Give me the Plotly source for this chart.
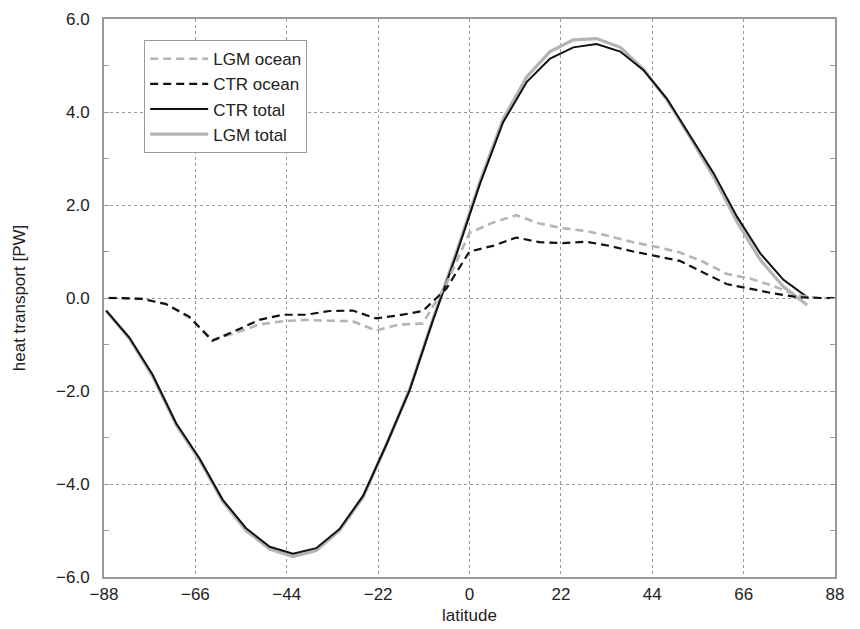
import plotly.graph_objects as go

# Latitudes of the total heat transport points
lat_total = [-87.5, -81.9, -76.3, -70.6, -65.0, -59.4, -53.8, -48.1, -42.5, -36.9,
             -31.3, -25.6, -20.0, -14.4, -8.8, -3.1, 2.5, 8.1, 13.8, 19.4,
             25.0, 30.6, 36.3, 41.9, 47.5, 53.1, 58.8, 64.4, 70.0, 75.6, 81.3]
ctr_total = [-0.27, -0.85, -1.65, -2.70, -3.45, -4.34, -4.95, -5.35, -5.50, -5.38,
             -4.97, -4.25, -3.15, -1.98, -0.48, 0.95, 2.45, 3.78, 4.65, 5.15,
             5.39, 5.46, 5.30, 4.90, 4.29, 3.50, 2.68, 1.75, 0.96, 0.39, 0.02]
lgm_total = [-0.27, -0.87, -1.68, -2.73, -3.48, -4.38, -5.00, -5.40, -5.56, -5.43,
             -5.00, -4.28, -3.15, -1.96, -0.45, 1.00, 2.50, 3.85, 4.76, 5.30,
             5.55, 5.58, 5.39, 4.92, 4.27, 3.46, 2.60, 1.64, 0.82, 0.24, -0.15]

# Latitudes of the ocean heat transport points
lat_ocean = [-90.0, -84.4, -78.75, -73.1, -67.5, -61.9, -56.25, -50.6, -45.0, -39.4,
             -33.75, -28.1, -22.5, -16.9, -11.25, -5.6, 0.0, 5.6, 11.25, 16.9,
             22.5, 28.1, 33.75, 39.4, 45.0, 50.6, 56.25, 61.9, 67.5, 73.1,
             78.75, 84.4, 90.0]
ctr_ocean = [0.0, 0.0, -0.02, -0.13, -0.40, -0.92, -0.70, -0.47, -0.36, -0.36,
             -0.28, -0.27, -0.44, -0.37, -0.28, 0.20, 1.00, 1.12, 1.30, 1.20,
             1.18, 1.21, 1.12, 1.00, 0.90, 0.80, 0.55, 0.30, 0.20, 0.10,
             0.02, 0.0, 0.0]
lgm_ocean = [0.0, 0.0, -0.02, -0.13, -0.42, -0.90, -0.75, -0.57, -0.50, -0.47,
             -0.49, -0.50, -0.70, -0.57, -0.55, 0.30, 1.40, 1.62, 1.78, 1.60,
             1.50, 1.44, 1.33, 1.20, 1.10, 0.98, 0.78, 0.52, 0.42, 0.26,
             0.06, 0.0, 0.0]

x_ticks = [-88, -66, -44, -22, 0, 22, 44, 66, 88]
y_ticks = [-6, -4, -2, 0, 2, 4, 6]

GREY = "#b4b4b4"
BLACK = "#111111"
FRAME = "#9a9a9a"
FONT = "Liberation Sans, Arial, sans-serif"

fig = go.Figure()
fig.add_trace(go.Scatter(x=lat_total, y=lgm_total, mode="lines", name="LGM total",
                         line=dict(color=GREY, width=3.2), legendrank=4))
fig.add_trace(go.Scatter(x=lat_total, y=ctr_total, mode="lines", name="CTR total",
                         line=dict(color=BLACK, width=2), legendrank=3))
fig.add_trace(go.Scatter(x=lat_ocean, y=lgm_ocean, mode="lines", name="LGM ocean",
                         line=dict(color=GREY, width=2.6, dash="8px,5px"), legendrank=1))
fig.add_trace(go.Scatter(x=lat_ocean, y=ctr_ocean, mode="lines", name="CTR ocean",
                         line=dict(color=BLACK, width=2.2, dash="8px,5px"), legendrank=2))

tick_font = dict(family=FONT, size=17, color="#222")
title_font = dict(family=FONT, size=17, color="#222")

fig.update_layout(
    width=860, height=629,
    margin=dict(l=104, r=25, t=19, b=52),
    paper_bgcolor="white", plot_bgcolor="white",
    font=tick_font,
    showlegend=True,
    legend=dict(x=0.055, y=0.962, xanchor="left", yanchor="top",
                bordercolor=FRAME, borderwidth=1, bgcolor="white",
                font=dict(family=FONT, size=17, color="#222"),
                itemwidth=58, tracegroupgap=0),
)
fig.update_xaxes(
    range=[-88, 88], tickvals=x_ticks, ticktext=[str(v).replace("-", "\u2212") for v in x_ticks],
    tickfont=tick_font, automargin=False,
    showgrid=True, gridcolor="#999", griddash="dot", gridwidth=1,
    zeroline=False, showline=True, linecolor=FRAME, linewidth=2, mirror=True,
    ticks="", ticklabelstandoff=1,
    title=dict(text="latitude", font=title_font, standoff=6),
)
fig.update_yaxes(
    range=[-6, 6], tickvals=y_ticks, tickformat=".1f", tickfont=tick_font, automargin=False,
    showgrid=True, gridcolor="#999", griddash="dot", gridwidth=1,
    zeroline=False, showline=True, linecolor=FRAME, linewidth=2, mirror="ticks",
    ticks="inside", ticklen=5, tickcolor=FRAME, ticklabelstandoff=9,
    minor=dict(dtick=1, tick0=0, ticks="inside", ticklen=5, tickcolor=FRAME, showgrid=False),
    title=dict(text="heat transport [PW]", font=title_font, standoff=26),
)

fig.write_html("out.html")
